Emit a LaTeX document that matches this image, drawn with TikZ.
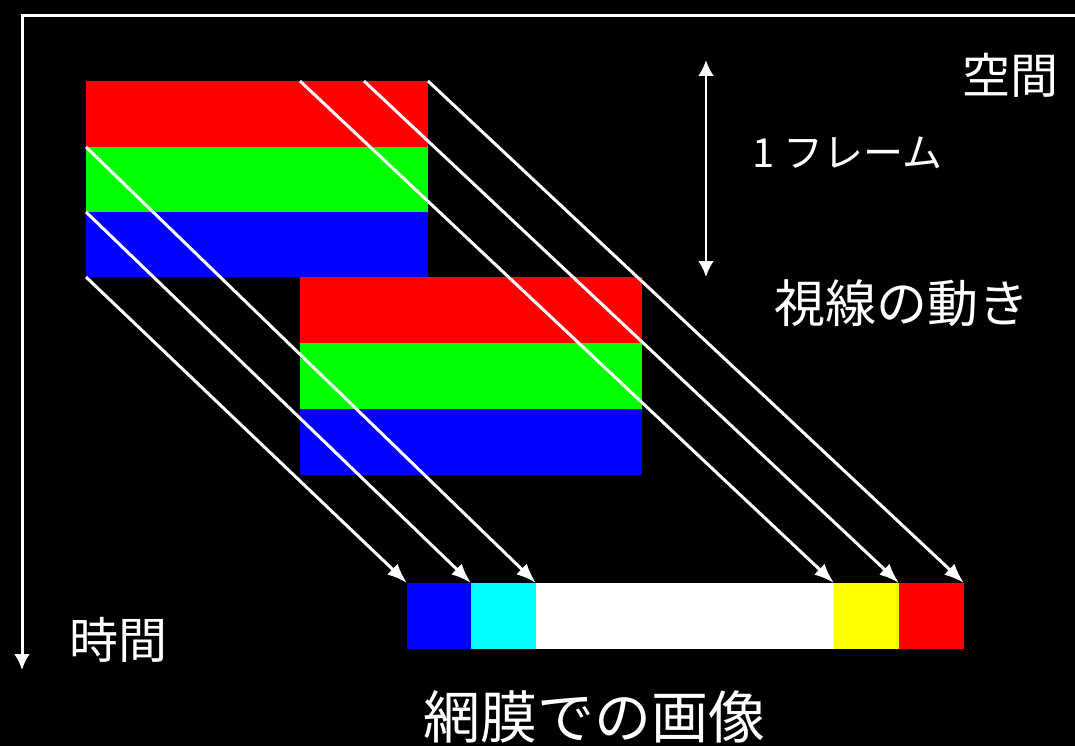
\documentclass[tikz,border=0pt]{standalone}
\usepackage{fontspec}
\setmainfont{Noto Sans CJK JP}
\usetikzlibrary{arrows.meta}
\definecolor{pgreen}{RGB}{0,255,0}
\definecolor{pcyan}{RGB}{0,255,255}
\definecolor{pyellow}{RGB}{255,255,0}
\begin{document}
\begin{tikzpicture}[x=1pt,y=-1pt,
  band/.style={draw=none,inner sep=0pt,outer sep=0pt,anchor=north west,minimum width=342pt},
  seg/.style={draw=none,inner sep=0pt,outer sep=0pt,anchor=north west,minimum height=66pt},
  ray/.style={white,line width=3pt,-{Latex[length=20pt,width=15pt]}},
  axis/.style={white,line width=3pt},
  lbl/.style={text=white,inner sep=0pt}]
\fill[black] (0,0) rectangle (1075,746);
\useasboundingbox (0,0) rectangle (1075,746);
% axes
\coordinate (o) at (22,15.5);
\coordinate (xe) at (1076,15.5);
\coordinate (ye) at (22,670);
\draw[axis] (xe) -- (o) -- (22,655);
\draw[white,line width=3pt,-{Latex[length=16pt,width=16pt]}] (22,650) -- (ye);
% frame 1
\node[band,fill=red,minimum height=66pt] (r1r) at (86,81) {};
\node[band,fill=pgreen,minimum height=65pt] (r1g) at (86,147) {};
\node[band,fill=blue,minimum height=65pt] (r1b) at (86,212) {};
% frame 2
\node[band,fill=red,minimum height=66pt] (r2r) at (300,277) {};
\node[band,fill=pgreen,minimum height=66pt] (r2g) at (300,343) {};
\node[band,fill=blue,minimum height=66pt] (r2b) at (300,409) {};
% retina bar
\node[seg,fill=blue,minimum width=64pt] (b1) at (407,583) {};
\node[seg,fill=pcyan,minimum width=65pt] (b2) at (471,583) {};
\node[seg,fill=white,minimum width=298pt] (b3) at (536,583) {};
\node[seg,fill=pyellow,minimum width=65pt] (b4) at (834,583) {};
\node[seg,fill=red,minimum width=65pt] (b5) at (899,583) {};
% rays
\coordinate (s4) at (300,81);
\coordinate (s5) at (364,81);
\draw[ray] (r1g.north west) -- (b3.north west);
\draw[ray] (r1b.north west) -- (b2.north west);
\draw[ray] (r1b.south west) -- (b1.north west);
\draw[ray] (s4) -- (b4.north west);
\draw[ray] (s5) -- (b5.north west);
\draw[ray] (r1r.north east) -- (b5.north east);
% frame arrow
\coordinate (fa) at (706,60);
\coordinate (fb) at (706,277);
\draw[white,line width=2.8pt,{Latex[length=16pt,width=16pt]}-{Latex[length=16pt,width=16pt]}] (fa) -- (fb);
% labels
\node[lbl,font=\fontsize{48}{50}\selectfont] (space) at (1010,75) {空間};
\node[lbl,font=\fontsize{40}{42}\selectfont] (frame) at (847,153) {1 フレーム};
\node[lbl,font=\fontsize{51}{53}\selectfont] (gaze) at (902,303) {視線の動き};
\node[lbl,font=\fontsize{49}{51}\selectfont] (time) at (118,640) {時間};
\node[lbl,font=\fontsize{57}{59}\selectfont] (retina) at (594,717) {網膜での画像};
\end{tikzpicture}
\end{document}
